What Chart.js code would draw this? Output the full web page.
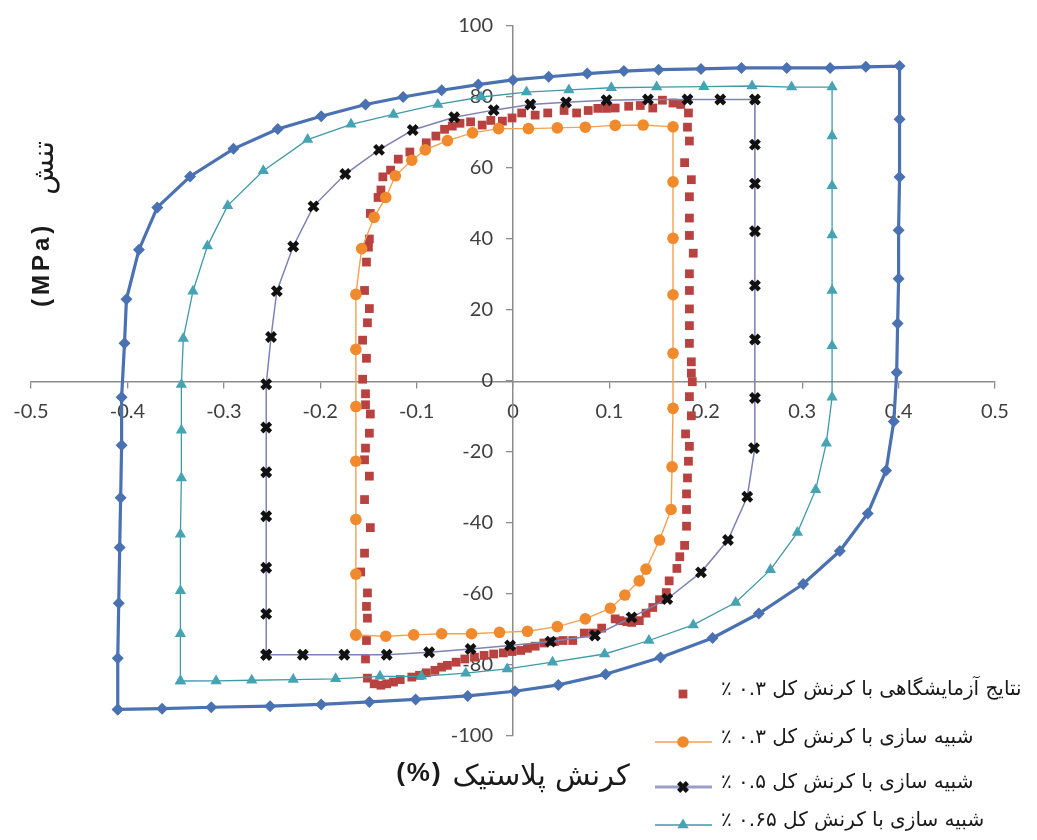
<!DOCTYPE html>
<html>
<head>
<meta charset="utf-8">
<script src="https://cdn.jsdelivr.net/npm/chart.js@4.4.1/dist/chart.umd.min.js"></script>
<style>
  html, body { margin: 0; padding: 0; background: #ffffff; }
  #wrap { width: 1037px; height: 840px; position: relative; }
</style>
</head>
<body>
<div id="wrap"><canvas id="loops"></canvas></div>
<script>
// Axis titles
const xTitleText = 'کرنش پلاستیک';
const xTitleUnit = '(%)';
const yTitleText = 'تنش';
const yTitleUnit = '(MPa)';

// Legend labels
const seriesNames = [
  'نتایج آزمایشگاهی با کرنش کل ۰.۳ ٪',
  'شبیه سازی با کرنش کل ۰.۳ ٪',
  'شبیه سازی با کرنش کل ۰.۵ ٪',
  'شبیه سازی با کرنش کل ۰.۶۵ ٪',
  'شبیه سازی با کرنش کل'
];

// Axis ranges and tick steps
const strainTicks = { min: -0.5, max: 0.5, step: 0.1 };
const stressTicks = { min: -100, max: 100, step: 20 };

// Experimental loop, total strain 0.3 % (plastic strain %, stress MPa)
const expStrain = [
  -0.150, -0.149, -0.148, -0.140, -0.137, -0.135, -0.127, -0.119, -0.107, -0.090,
  -0.080, -0.071, -0.063, -0.055, -0.044, -0.032, -0.023, -0.011, -0.001, 0.009,
  0.023, 0.036, 0.053, 0.066, 0.078, 0.088, 0.097, 0.106, 0.120, 0.132,
  0.145, 0.155, 0.166, 0.174, 0.182, 0.181, 0.183, 0.178, 0.185, 0.183,
  0.183, 0.183, 0.187, 0.183, 0.183, 0.183, 0.183, 0.183, 0.185, 0.185,
  0.186, 0.183, 0.185, 0.179, 0.183, 0.182, 0.181, 0.180, 0.180, 0.180,
  0.178, 0.173, 0.170, 0.162, 0.159, 0.152, 0.145, 0.138, 0.131, 0.123,
  0.118, 0.111, 0.106, 0.092, 0.083, 0.074, 0.062, 0.052, 0.043, 0.032,
  0.023, 0.015, 0.008, -0.001, -0.010, -0.020, -0.030, -0.040, -0.050, -0.059,
  -0.068, -0.074, -0.081, -0.090, -0.097, -0.105, -0.117, -0.124, -0.131, -0.137,
  -0.144, -0.151, -0.153, -0.152, -0.151, -0.152, -0.151, -0.158, -0.154, -0.148,
  -0.154, -0.149, -0.154, -0.153, -0.149, -0.148, -0.153, -0.153, -0.156, -0.152,
  -0.156, -0.151, -0.149, -0.154, -0.152
];
const expStress = [
  37.7, 40.0, 47.2, 51.7, 53.8, 57.5, 59.4, 62.5, 64.5, 67.1,
  69.0, 70.9, 71.8, 72.6, 73.0, 72.1, 73.4, 73.2, 74.1, 75.5,
  74.9, 75.5, 76.2, 75.5, 76.2, 76.8, 76.8, 76.9, 77.4, 77.6,
  76.9, 79.1, 78.3, 77.9, 75.5, 71.5, 67.6, 61.5, 56.7, 51.9,
  45.9, 41.0, 36.0, 30.2, 25.5, 20.3, 15.6, 10.6, 5.4, 2.2,
  -0.2, -4.4, -9.8, -14.9, -18.4, -22.6, -27.3, -31.8, -36.2, -40.9,
  -46.3, -49.5, -52.8, -56.3, -59.6, -61.6, -63.8, -65.4, -67.5, -68.0,
  -67.8, -67.5, -67.0, -69.6, -71.0, -71.0, -73.1, -73.1, -73.4, -73.8,
  -74.7, -75.3, -75.9, -76.2, -76.6, -76.9, -77.3, -77.8, -78.3, -79.2,
  -80.1, -80.6, -81.5, -82.2, -82.9, -83.4, -84.1, -84.8, -85.3, -85.7,
  -85.3, -83.7, -78.3, -73.1, -66.8, -63.5, -59.7, -53.8, -48.5, -41.3,
  -33.4, -26.8, -22.2, -18.9, -14.7, -9.3, -6.7, -3.6, 0.5, 6.4,
  11.5, 16.4, 20.4, 25.5, 33.5
];

// Simulated loop, total strain 0.3 %
const sim03Strain = [
  -0.163, -0.163, -0.163, -0.163, -0.163, -0.163, -0.163, -0.157, -0.144, -0.132,
  -0.122, -0.105, -0.091, -0.068, -0.042, -0.015, 0.016, 0.046, 0.075, 0.106,
  0.135, 0.166, 0.166, 0.166, 0.166, 0.166, 0.166, 0.165, 0.164, 0.152,
  0.138, 0.131, 0.116, 0.101, 0.075, 0.046, 0.015, -0.014, -0.043, -0.074,
  -0.103, -0.132, -0.163
];
const sim03Stress = [
  -71.5, -54.4, -39.0, -22.6, -7.2, 8.9, 24.4, 37.3, 46.1, 51.7,
  57.8, 62.2, 65.1, 67.7, 69.9, 71.1, 71.1, 71.3, 71.5, 72.0,
  72.1, 71.6, 56.1, 40.2, 24.3, 7.8, -7.7, -24.2, -36.2, -44.8,
  -53.0, -56.3, -60.3, -64.0, -67.0, -69.2, -70.5, -70.8, -71.2, -71.2,
  -71.5, -71.9, -71.5
];

// Simulated loop, total strain 0.5 %
const sim05Strain = [
  -0.256, -0.256, -0.256, -0.256, -0.256, -0.256, -0.256, -0.251, -0.245, -0.228,
  -0.207, -0.174, -0.139, -0.104, -0.061, -0.020, 0.018, 0.055, 0.097, 0.140,
  0.181, 0.215, 0.251, 0.251, 0.251, 0.251, 0.251, 0.251, 0.251, 0.250,
  0.243, 0.223, 0.195, 0.160, 0.123, 0.085, 0.039, -0.003, -0.044, -0.087,
  -0.131, -0.175, -0.218, -0.256
];
const sim05Stress = [
  -77.1, -65.6, -52.6, -38.1, -25.7, -13.1, -0.9, 12.4, 25.3, 37.9,
  49.2, 58.3, 65.1, 70.7, 74.3, 76.3, 77.9, 78.5, 79.1, 79.3,
  79.3, 79.3, 79.3, 66.6, 55.6, 42.2, 26.9, 11.7, -4.8, -18.9,
  -32.6, -44.8, -53.9, -61.4, -66.6, -71.7, -73.4, -74.5, -75.5, -76.4,
  -77.1, -77.1, -77.1, -77.1
];

// Simulated loop, total strain 0.65 %
const sim065Strain = [
  -0.345, -0.345, -0.345, -0.345, -0.344, -0.344, -0.344, -0.342, -0.332, -0.317,
  -0.296, -0.259, -0.213, -0.168, -0.124, -0.078, -0.033, 0.014, 0.058, 0.102,
  0.149, 0.198, 0.248, 0.289, 0.331, 0.331, 0.331, 0.331, 0.331, 0.331,
  0.331, 0.325, 0.314, 0.295, 0.267, 0.231, 0.187, 0.141, 0.095, 0.041,
  -0.006, -0.049, -0.095, -0.138, -0.184, -0.228, -0.271, -0.308, -0.345
];
const sim065Stress = [
  -84.5, -71.2, -59.1, -43.2, -27.3, -13.9, -1.0, 12.0, 25.3, 38.0,
  49.4, 59.2, 68.0, 72.3, 75.1, 77.9, 80.0, 81.4, 82.0, 82.6,
  82.8, 82.9, 83.1, 82.8, 82.8, 69.0, 55.0, 41.1, 25.5, 9.9,
  -4.6, -17.5, -30.6, -42.7, -53.2, -62.4, -68.7, -73.1, -76.9, -79.2,
  -81.1, -82.3, -83.2, -83.2, -83.9, -84.1, -84.3, -84.5, -84.5
];

// Simulated loop, largest total strain
const simLargeStrain = [
  -0.410, -0.410, -0.409, -0.408, -0.407, -0.406, -0.406, -0.403, -0.401, -0.388,
  -0.369, -0.335, -0.290, -0.244, -0.199, -0.153, -0.114, -0.074, -0.036, 0.000,
  0.037, 0.077, 0.115, 0.151, 0.195, 0.237, 0.284, 0.329, 0.366, 0.401,
  0.401, 0.401, 0.400, 0.400, 0.399, 0.398, 0.395, 0.387, 0.368, 0.339,
  0.301, 0.255, 0.207, 0.153, 0.096, 0.047, 0.002, -0.047, -0.101, -0.149,
  -0.199, -0.252, -0.313, -0.364, -0.410
];
const simLargeStress = [
  -92.5, -78.1, -62.6, -46.9, -32.9, -18.1, -4.6, 10.6, 23.0, 37.0,
  48.9, 57.6, 65.4, 71.0, 74.6, 77.9, 80.0, 81.9, 83.5, 84.8,
  85.7, 86.6, 87.3, 87.7, 87.9, 88.2, 88.2, 88.2, 88.5, 88.7,
  73.7, 57.5, 42.5, 28.8, 16.2, 2.4, -11.4, -25.2, -37.3, -47.9,
  -57.2, -65.5, -72.4, -77.9, -82.6, -85.6, -87.4, -88.7, -89.7, -90.4,
  -91.1, -91.6, -91.9, -92.3, -92.5
];

function toPoints(xs, ys) {
  return xs.map((x, i) => ({ x: x, y: ys[i] }));
}

const axisGrey = '#8c8c8c';
const tickGrey = '#404040';
const persianFont = '"DejaVu Sans", "Noto Sans", sans-serif';

const datasets = [
  {
    label: seriesNames[0], data: toPoints(expStrain, expStress), showLine: false,
    pointStyle: 'rect', pointRadius: 6.2, pointBorderWidth: 0,
    pointBackgroundColor: '#b8423f', pointBorderColor: '#b8423f',
    borderColor: '#b8423f', order: 5
  },
  {
    label: seriesNames[1], data: toPoints(sim03Strain, sim03Stress), showLine: true,
    borderColor: '#f3a24f', borderWidth: 1.4,
    pointStyle: 'circle', pointRadius: 5.8, pointBorderWidth: 0,
    pointBackgroundColor: '#f08a2c', pointBorderColor: '#f08a2c', order: 4
  },
  {
    label: seriesNames[2], data: toPoints(sim05Strain, sim05Stress), showLine: true,
    borderColor: '#7e82b5', borderWidth: 1.5,
    pointStyle: 'crossRot', pointRadius: 6.2, pointBorderWidth: 4.4,
    pointBackgroundColor: '#111111', pointBorderColor: '#111111', order: 3
  },
  {
    label: seriesNames[3], data: toPoints(sim065Strain, sim065Stress), showLine: true,
    borderColor: '#3f9aa8', borderWidth: 1.3,
    pointStyle: 'triangle', pointRadius: 6.5, pointBorderWidth: 0,
    pointBackgroundColor: '#45a3b3', pointBorderColor: '#45a3b3', order: 2
  },
  {
    label: seriesNames[4], data: toPoints(simLargeStrain, simLargeStress), showLine: true,
    borderColor: '#4a71b1', borderWidth: 3.2,
    pointStyle: 'rectRot', pointRadius: 6, pointBorderWidth: 0,
    pointBackgroundColor: '#4a71b1', pointBorderColor: '#4a71b1', order: 1
  }
];

// Legend rows: which dataset, row centre
const legendRows = [
  { index: 0, y: 694 },
  { index: 1, y: 742 },
  { index: 2, y: 787 },
  { index: 3, y: 825 }
];

const titlesAndLegend = {
  id: 'titlesAndLegend',
  afterDraw(chart) {
    const ctx = chart.ctx;
    const area = chart.chartArea;

    // x title: unit in bold on the left, Persian words on the right
    ctx.save();
    ctx.fillStyle = '#1a1a1a';
    ctx.textBaseline = 'middle';
    ctx.font = 'bold 26px "Liberation Sans", Arial, sans-serif';
    ctx.letterSpacing = '2px';
    const unitW = ctx.measureText(xTitleUnit).width;
    ctx.letterSpacing = '0px';
    ctx.font = '29px ' + persianFont;
    ctx.direction = 'rtl';
    const wordW = ctx.measureText(xTitleText).width;
    const gap = 10;
    const cx = (area.left + area.right) / 2;
    const startX = cx - (unitW + gap + wordW) / 2;
    ctx.textAlign = 'left';
    ctx.fillText(xTitleText, startX + unitW + gap, 777);
    ctx.direction = 'ltr';
    ctx.font = 'bold 26px "Liberation Sans", Arial, sans-serif';
    ctx.letterSpacing = '2px';
    ctx.textAlign = 'left';
    ctx.fillText(xTitleUnit, startX, 774);
    ctx.restore();

    // y title, rotated to read bottom-to-top
    ctx.save();
    ctx.fillStyle = '#1a1a1a';
    ctx.translate(42, 225);
    ctx.rotate(-Math.PI / 2);
    ctx.textBaseline = 'middle';
    ctx.font = 'bold 24px "Liberation Sans", Arial, sans-serif';
    ctx.letterSpacing = '4px';
    ctx.textAlign = 'left';
    ctx.fillText(yTitleUnit, -82, 0);
    ctx.letterSpacing = '0px';
    ctx.font = '29px ' + persianFont;
    ctx.direction = 'rtl';
    ctx.textAlign = 'right';
    ctx.fillText(yTitleText, 84, 3);
    ctx.restore();

    // legend
    legendRows.forEach(row => {
      const ds = chart.data.datasets[row.index];
      ctx.save();
      if (ds.showLine) {
        ctx.strokeStyle = row.index === 2 ? '#9a9dc8' : ds.borderColor;
        ctx.lineWidth = row.index === 2 ? 2.8 : 1.6;
        ctx.beginPath();
        ctx.moveTo(655, row.y);
        ctx.lineTo(712, row.y);
        ctx.stroke();
      }
      ctx.fillStyle = ds.pointBackgroundColor;
      ctx.strokeStyle = ds.pointBorderColor;
      ctx.lineWidth = ds.pointBorderWidth;
      Chart.helpers.drawPoint(ctx, {
        pointStyle: ds.pointStyle,
        radius: ds.pointRadius,
        rotation: 0,
        borderWidth: ds.pointBorderWidth
      }, 683, row.y);
      ctx.fillStyle = '#1a1a1a';
      ctx.font = '20px ' + persianFont;
      ctx.direction = 'rtl';
      ctx.textAlign = 'left';
      ctx.textBaseline = 'middle';
      ctx.fillText(ds.label, 721, row.y - 4);
      ctx.restore();
    });
  }
};

Chart.defaults.font.family = 'Lato, "Liberation Sans", sans-serif';

new Chart(document.getElementById('loops'), {
  type: 'scatter',
  data: { datasets: datasets },
  options: {
    responsive: true,
    maintainAspectRatio: false,
    animation: false,
    layout: { padding: { left: 31, right: 42, top: 24, bottom: 104 } },
    plugins: { legend: { display: false }, tooltip: { enabled: false } },
    scales: {
      x: {
        type: 'linear',
        position: 'center',
        min: strainTicks.min,
        max: strainTicks.max,
        afterFit(scale) { scale.height = 0; },
        ticks: {
          stepSize: strainTicks.step, maxRotation: 0, autoSkip: false,
          padding: 13, color: tickGrey, font: { size: 20 }
        },
        grid: { drawOnChartArea: false, tickLength: 6, color: axisGrey, lineWidth: 1.3 },
        border: { display: true, color: axisGrey, width: 1.5 }
      },
      y: {
        type: 'linear',
        position: 'center',
        min: stressTicks.min,
        max: stressTicks.max,
        afterFit(scale) { scale.width = 0; },
        ticks: {
          stepSize: stressTicks.step, padding: 14, color: tickGrey, font: { size: 20 }
        },
        grid: { drawOnChartArea: false, tickLength: 6, color: axisGrey, lineWidth: 1.3 },
        border: { display: true, color: axisGrey, width: 1.5 }
      }
    }
  },
  plugins: [titlesAndLegend]
});
</script>
</body>
</html>
